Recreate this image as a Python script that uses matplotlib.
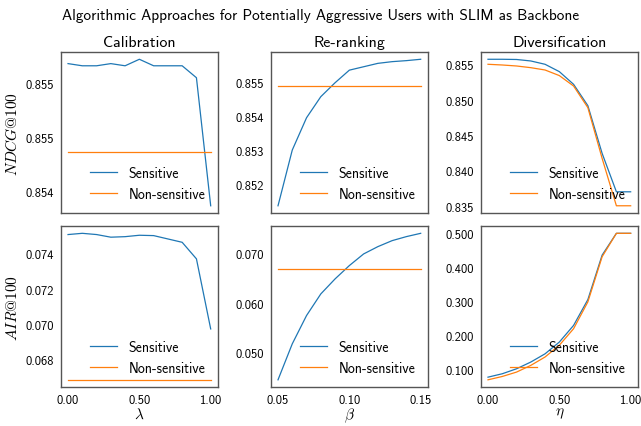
import matplotlib
matplotlib.use("Agg")
import matplotlib.pyplot as plt
from matplotlib.ticker import FormatStrFormatter, MultipleLocator

plt.rcParams['font.family'] = ['cmss10', 'DejaVu Sans']
plt.rcParams['mathtext.fontset'] = 'cm'
plt.rcParams['axes.formatter.use_mathtext'] = True
plt.rcParams['axes.unicode_minus'] = False

# ---- data ----
lam = [0.0, 0.1, 0.2, 0.3, 0.4, 0.5, 0.6, 0.7, 0.8, 0.9, 1.0]
beta = [0.05, 0.06, 0.07, 0.08, 0.09, 0.10, 0.11, 0.12, 0.13, 0.14, 0.15]
eta = [0.0, 0.1, 0.2, 0.3, 0.4, 0.5, 0.6, 0.7, 0.8, 0.9, 1.0]

cal_ndcg_sens = [0.85568, 0.85566, 0.85566, 0.85568, 0.85566, 0.85572,
                 0.85566, 0.85566, 0.85566, 0.85555, 0.85437]
cal_ndcg_non = 0.85487
rr_ndcg_sens = [0.85137, 0.85301, 0.85396, 0.85458, 0.85499, 0.85536,
                0.85546, 0.85556, 0.85561, 0.85564, 0.85568]
rr_ndcg_non = 0.85490
div_ndcg_sens = [0.85581, 0.85581, 0.85578, 0.85557, 0.85510, 0.85406,
                 0.85226, 0.84924, 0.84248, 0.83704, 0.83704]
div_ndcg_non = [0.85510, 0.85500, 0.85486, 0.85462, 0.85429, 0.85350,
                0.85202, 0.84896, 0.84177, 0.83506, 0.83506]

cal_air_sens = [0.07510, 0.07517, 0.07510, 0.07495, 0.07498, 0.07506,
                0.07504, 0.07485, 0.07466, 0.07372, 0.06974]
cal_air_non = 0.06685
rr_air_sens = [0.04437, 0.05170, 0.05746, 0.06186, 0.06492, 0.06763,
               0.07000, 0.07149, 0.07271, 0.07353, 0.07420]
rr_air_non = 0.06695
div_air_sens = [0.0774, 0.0874, 0.1020, 0.1218, 0.1460, 0.1805,
                0.2295, 0.3053, 0.4360, 0.5000, 0.5000]
div_air_non = [0.0696, 0.0794, 0.0923, 0.1120, 0.1366, 0.1711,
               0.2198, 0.2985, 0.4312, 0.5000, 0.5000]

cal_ndcg_ticks = [0.8545, 0.8550, 0.8555]
cal_ndcg_ticklabels = ["0.854", "0.855", "0.855"]

col_titles = ["Calibration", "Re-ranking", "Diversification"]
row_labels = [r"$NDCG@100$", r"$AIR@100$"]
x_labels = [r"$\lambda$", r"$\beta$", r"$\eta$"]
series_names = ["Sensitive", "Non-sensitive"]
suptitle = "Algorithmic Approaches for Potentially Aggressive Users with SLIM as Backbone"

blue = "#1f77b4"
orange = "#ff7f0e"

fig, axes = plt.subplots(2, 3, figsize=(6.41, 4.27), dpi=100)
fig.subplots_adjust(left=0.095, right=0.995, top=0.876, bottom=0.091,
                    wspace=0.338, hspace=0.08)

xs = [lam, beta, eta]
panels = [
    [(cal_ndcg_sens, [cal_ndcg_non] * len(lam)),
     (rr_ndcg_sens, [rr_ndcg_non] * len(beta)),
     (div_ndcg_sens, div_ndcg_non)],
    [(cal_air_sens, [cal_air_non] * len(lam)),
     (rr_air_sens, [rr_air_non] * len(beta)),
     (div_air_sens, div_air_non)],
]

for c in range(3):
    axes[0, c].sharex(axes[1, c])

for r in range(2):
    for c in range(3):
        ax = axes[r, c]
        s, n = panels[r][c]
        ax.plot(xs[c], s, color=blue, lw=0.9, label=series_names[0])
        ax.plot(xs[c], n, color=orange, lw=0.9, label=series_names[1])
        for sp in ax.spines.values():
            sp.set_color("#555555")
            sp.set_linewidth(1.0)
        ax.tick_params(length=0, labelsize=9, pad=5)
        ax.legend(loc="lower right", frameon=False, fontsize=10,
                  borderaxespad=0.5)
        if r == 0:
            ax.set_title(col_titles[c], fontsize=11.5, pad=4)
        else:
            ax.set_xlabel(x_labels[c], fontsize=11, labelpad=0)
        if c == 0:
            ax.set_ylabel(row_labels[r], fontsize=11)

# tick setup
axes[0, 0].set_yticks(cal_ndcg_ticks)
axes[0, 0].set_yticklabels(cal_ndcg_ticklabels)
axes[0, 1].yaxis.set_major_locator(MultipleLocator(0.001))
axes[0, 1].yaxis.set_major_formatter(FormatStrFormatter('%.3f'))
axes[0, 2].yaxis.set_major_locator(MultipleLocator(0.005))
axes[0, 2].yaxis.set_major_formatter(FormatStrFormatter('%.3f'))
axes[1, 0].yaxis.set_major_locator(MultipleLocator(0.002))
axes[1, 0].yaxis.set_major_formatter(FormatStrFormatter('%.3f'))
axes[1, 1].yaxis.set_major_locator(MultipleLocator(0.01))
axes[1, 1].yaxis.set_major_formatter(FormatStrFormatter('%.3f'))
axes[1, 2].yaxis.set_major_locator(MultipleLocator(0.1))
axes[1, 2].yaxis.set_major_formatter(FormatStrFormatter('%.3f'))

axes[1, 0].set_xticks([0.0, 0.5, 1.0])
axes[1, 0].xaxis.set_major_formatter(FormatStrFormatter('%.2f'))
axes[1, 1].set_xticks([0.05, 0.10, 0.15])
axes[1, 1].xaxis.set_major_formatter(FormatStrFormatter('%.2f'))
axes[1, 2].set_xticks([0.0, 0.5, 1.0])
axes[1, 2].xaxis.set_major_formatter(FormatStrFormatter('%.2f'))
for c in range(3):
    axes[0, c].tick_params(labelbottom=False)

fig.suptitle(suptitle, fontsize=11, y=0.978)
fig.savefig("out.png", dpi=100)
